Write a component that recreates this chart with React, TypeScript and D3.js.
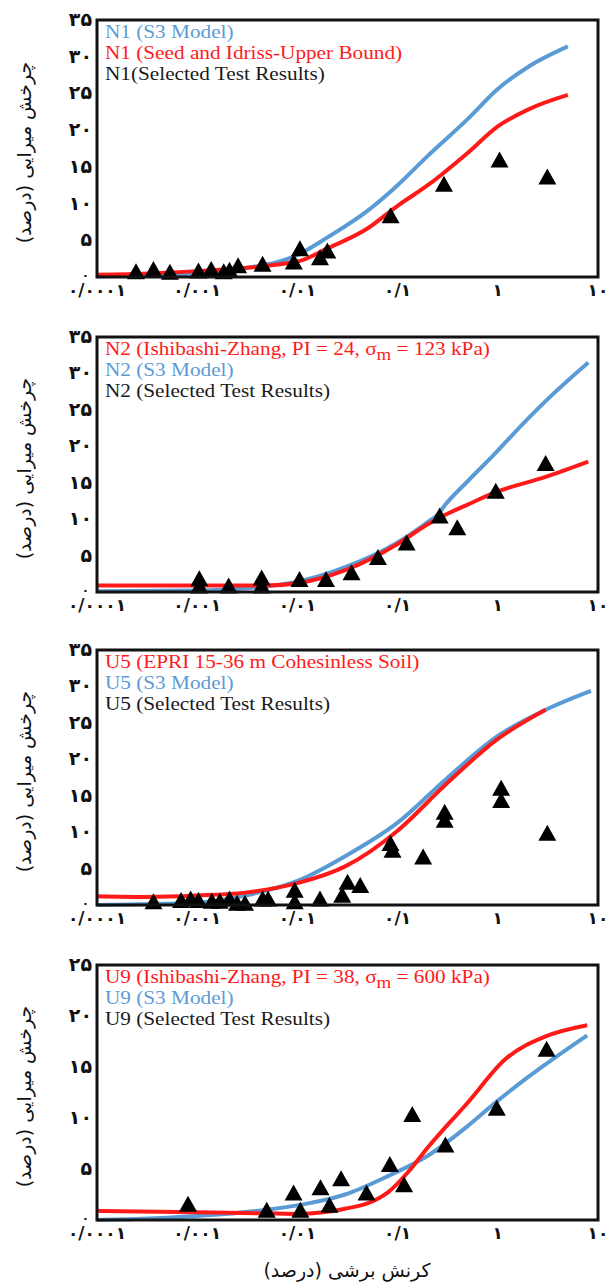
import React from 'react';
import * as d3 from 'd3';

type Pt = [number, number];

// ---------- Data ----------
const X_TICKS = [0.0001, 0.001, 0.01, 0.1, 1, 10];
const X_TICK_LABELS = ['۰/۰۰۰۱', '۰/۰۰۱', '۰/۰۱', '۰/۱', '۱', '۱۰'];
const Y_TITLE = 'چرخش میرایی (درصد)';
const X_TITLE = 'کرنش برشی (درصد)';

// Panel 1 (N1)
const N1_S3: Pt[] = [[0.0001, 0.1], [0.001, 0.5], [0.003, 1.2], [0.01, 3.0], [0.02, 5.4], [0.05, 9.0], [0.1, 12.5], [0.2, 16.5], [0.5, 21.5], [1, 25.6], [2, 28.6], [5, 31.4]];
const N1_SEED: Pt[] = [[0.0001, 0.3], [0.001, 0.8], [0.01, 2.1], [0.02, 3.9], [0.05, 6.6], [0.1, 9.7], [0.2, 12.5], [0.5, 16.9], [1, 20.5], [2, 22.8], [5, 24.8]];
const N1_TESTS: Pt[] = [[0.000245, 0.8], [0.000366, 1.1], [0.000534, 0.7], [0.00103, 0.9], [0.00138, 1.1], [0.00184, 0.8], [0.0021, 1.0], [0.00256, 1.6], [0.00449, 1.8], [0.0092, 2.1], [0.0106, 3.9], [0.0168, 2.7], [0.0199, 3.6], [0.0851, 8.4], [0.29, 12.7], [1.04, 16.0], [3.12, 13.7]];

// Panel 2 (N2)
const N2_IZ: Pt[] = [[0.0001, 0.9], [0.001, 0.9], [0.005, 0.9], [0.01, 1.2], [0.03, 3.0], [0.1, 6.6], [0.2, 9.3], [0.3, 10.6], [0.5, 12.0], [1, 13.8], [3, 15.8], [8, 17.9]];
const N2_S3: Pt[] = [[0.0001, 0.1], [0.001, 0.2], [0.003, 0.5], [0.01, 1.4], [0.03, 3.4], [0.1, 6.8], [0.2, 9.6], [0.25, 10.6], [0.3, 12.0], [0.5, 15.2], [1, 19.4], [1.3, 21.1], [3, 26.2], [8, 31.5]];
const N2_TESTS: Pt[] = [[0.00105, 1.9], [0.00105, 0.9], [0.00206, 0.9], [0.0044, 2.0], [0.0044, 0.9], [0.0105, 1.8], [0.0193, 1.8], [0.0347, 2.7], [0.0636, 4.8], [0.123, 6.8], [0.263, 10.5], [0.394, 8.9], [0.955, 13.9], [3.0, 17.7]];

// Panel 3 (U5)
const U5_EPRI: Pt[] = [[0.0001, 1.2], [0.0003, 1.1], [0.001, 1.3], [0.003, 1.7], [0.01, 3.0], [0.03, 5.3], [0.1, 10.2], [0.3, 16.5], [1, 22.8], [3, 26.8]];
const U5_S3: Pt[] = [[0.0001, 0.0], [0.001, 0.3], [0.003, 1.3], [0.01, 3.3], [0.03, 6.7], [0.1, 11.3], [0.3, 17.2], [1, 23.2], [3, 26.8], [8.5, 29.4]];
const U5_TESTS: Pt[] = [[0.000366, 0.5], [0.00069, 0.7], [0.00086, 0.9], [0.00103, 0.7], [0.0014, 0.6], [0.00168, 0.6], [0.0021, 0.9], [0.0025, 0.3], [0.003, 0.3], [0.0045, 0.9], [0.0051, 0.9], [0.0094, 2.1], [0.0094, 0.5], [0.0168, 0.9], [0.028, 1.4], [0.0317, 3.2], [0.0424, 2.75], [0.085, 8.5], [0.089, 7.6], [0.18, 6.65], [0.295, 12.8], [0.295, 11.7], [1.08, 16.1], [1.08, 14.4], [3.12, 9.9]];

// Panel 4 (U9)
const U9_IZ: Pt[] = [[0.0001, 0.9], [0.001, 0.75], [0.005, 0.65], [0.01, 0.6], [0.03, 1.1], [0.08, 2.7], [0.13, 4.8], [0.2, 7.1], [0.5, 11.5], [1.2, 15.8], [3, 18.0], [7.8, 19.1]];
const U9_S3: Pt[] = [[0.0001, 0.0], [0.001, 0.4], [0.005, 1.0], [0.014, 1.7], [0.03, 2.5], [0.08, 4.3], [0.2, 6.3], [0.5, 9.2], [1, 11.7], [2, 14.0], [7.8, 18.1]];
const U9_TESTS: Pt[] = [[0.00081, 1.6], [0.00494, 1.0], [0.00916, 2.7], [0.0107, 1.0], [0.017, 3.2], [0.0209, 1.5], [0.0273, 4.1], [0.049, 2.7], [0.0836, 5.5], [0.116, 3.5], [0.14, 10.4], [0.3, 7.4], [0.977, 11.0], [3.07, 16.8]];

const RED = '#ff1a1a';
const BLUE = '#5b9bd5';
const BLACK = '#1a1a1a';

type Part = { t: string; sub?: boolean };
type LegendLine = { parts: Part[]; color: string };

const panels = [
  {
    top: 20, bottom: 277, yMax: 35,
    legend: [
      { parts: [{ t: 'N1 (S3 Model)' }], color: BLUE },
      { parts: [{ t: 'N1 (Seed and Idriss-Upper Bound)' }], color: RED },
      { parts: [{ t: 'N1(Selected Test Results)' }], color: BLACK },
    ] as LegendLine[],
    blue: N1_S3, red: N1_SEED, tests: N1_TESTS,
  },
  {
    top: 337, bottom: 592, yMax: 35,
    legend: [
      { parts: [{ t: 'N2 (Ishibashi-Zhang, PI = 24, σ' }, { t: 'm', sub: true }, { t: ' = 123 kPa)' }], color: RED },
      { parts: [{ t: 'N2 (S3 Model)' }], color: BLUE },
      { parts: [{ t: 'N2 (Selected Test Results)' }], color: BLACK },
    ] as LegendLine[],
    blue: N2_S3, red: N2_IZ, tests: N2_TESTS,
  },
  {
    top: 650, bottom: 905, yMax: 35,
    legend: [
      { parts: [{ t: 'U5 (EPRI 15-36 m Cohesinless Soil)' }], color: RED },
      { parts: [{ t: 'U5 (S3 Model)' }], color: BLUE },
      { parts: [{ t: 'U5 (Selected Test Results)' }], color: BLACK },
    ] as LegendLine[],
    blue: U5_S3, red: U5_EPRI, tests: U5_TESTS,
  },
  {
    top: 965, bottom: 1220, yMax: 25,
    legend: [
      { parts: [{ t: 'U9 (Ishibashi-Zhang, PI = 38, σ' }, { t: 'm', sub: true }, { t: ' = 600 kPa)' }], color: RED },
      { parts: [{ t: 'U9 (S3 Model)' }], color: BLUE },
      { parts: [{ t: 'U9 (Selected Test Results)' }], color: BLACK },
    ] as LegendLine[],
    blue: U9_S3, red: U9_IZ, tests: U9_TESTS,
  },
];

const LEFT = 97;
const RIGHT = 598;

const FA = ['۰', '۱', '۲', '۳', '۴', '۵', '۶', '۷', '۸', '۹'];
const toFa = (n: number) => String(n).replace(/[0-9]/g, (d) => FA[+d]);

function Panel({ p }: { p: typeof panels[number] }) {
  const x = d3.scaleLog().domain([0.0001, 10]).range([LEFT, RIGHT]);
  const y = d3.scaleLinear().domain([0, p.yMax]).range([p.bottom, p.top]);
  const line = d3.line<Pt>().x((d) => x(d[0])).y((d) => y(d[1])).curve(d3.curveMonotoneX);
  const yTicks = d3.range(0, p.yMax + 0.001, 5);
  const tw = 18, th = 16;
  const mid = (p.top + p.bottom) / 2 + 4;
  return (
    <g>
      <path d={line(p.blue) || ''} fill="none" stroke={BLUE} strokeWidth={4} />
      <path d={line(p.red) || ''} fill="none" stroke={RED} strokeWidth={4} />
      {p.tests.map((d, i) => {
        const cx = x(d[0]), cy = y(d[1]);
        return (
          <path key={i} d={`M${cx},${cy - th / 2}L${cx + tw / 2},${cy + th / 2}L${cx - tw / 2},${cy + th / 2}Z`} fill="#000" />
        );
      })}
      <rect x={LEFT} y={p.top} width={RIGHT - LEFT} height={p.bottom - p.top} fill="none" stroke="#111" strokeWidth={3} />
      {yTicks.map((t) => (
        <text key={t} x={t === 0 ? 89 : 92} y={t === 0 ? y(t) + 2 : y(t) + 6} textAnchor="end" fontFamily="DejaVu Sans" fontWeight="bold" fontSize={t === 0 ? 12 : 19} fill="#111">{toFa(t)}</text>
      ))}
      {X_TICKS.map((t, i) => (
        <text key={t} x={x(t)} y={p.bottom + 19} textAnchor="middle" fontFamily="DejaVu Sans" fontWeight="bold" fontSize={17} fill="#111">{X_TICK_LABELS[i]}</text>
      ))}
      <text transform={`translate(24,${mid}) rotate(-90)`} textAnchor="middle" dominantBaseline="central" fontFamily="DejaVu Sans" fontSize={19} fill="#111" direction="rtl">{Y_TITLE}</text>
      {p.legend.map((l, i) => (
        <g key={i} transform={`translate(105,${p.top + 18 + i * 21}) scale(1.18,1)`}>
          <text x={0} y={0} fontFamily="Liberation Serif" fontSize={18} fill={l.color}>
            {l.parts.map((pt, j) => pt.sub
              ? <tspan key={j} dy={5} fontSize={16}>{pt.t}</tspan>
              : <tspan key={j} dy={j > 0 && l.parts[j - 1].sub ? -5 : 0}>{pt.t}</tspan>)}
          </text>
        </g>
      ))}
    </g>
  );
}

export default function App() {
  return (
    <svg width={611} height={1284} style={{ position: 'absolute', left: 0, top: 0, background: '#fff' }}>
      <rect width={611} height={1284} fill="#fff" />
      {panels.map((p, i) => <Panel key={i} p={p} />)}
      <text x={347} y={1270} textAnchor="middle" dominantBaseline="central" fontFamily="DejaVu Sans" fontSize={19} fill="#111" direction="rtl">{X_TITLE}</text>
    </svg>
  );
}
